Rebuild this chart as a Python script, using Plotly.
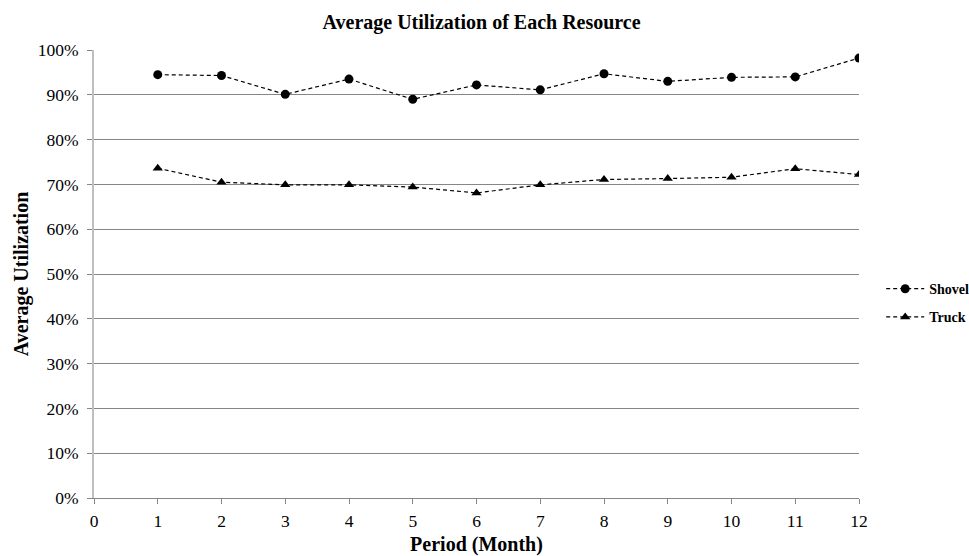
import plotly.graph_objects as go

months = list(range(1, 13))
shovel = [94.5, 94.3, 90.1, 93.5, 89.0, 92.2, 91.1, 94.7, 93.0, 93.9, 94.0, 98.2]
truck = [73.6, 70.5, 69.9, 69.9, 69.4, 68.1, 69.9, 71.1, 71.3, 71.6, 73.5, 72.2]
y_ticks = list(range(0, 101, 10))
y_tick_text = [f"{v}%" for v in y_ticks]
x_ticks = list(range(0, 13))

FONT = "Liberation Serif, Times New Roman, serif"

fig = go.Figure()
fig.add_trace(go.Scatter(
    x=months, y=shovel, name="Shovel", mode="lines+markers", legendgroup="shovel",
    line=dict(color="black", width=1.2, dash="4px,3px"),
    marker=dict(symbol="circle", size=9, color="black"),
))
fig.add_trace(go.Scatter(
    x=months, y=truck, name="Truck", mode="lines+markers", legendgroup="truck",
    line=dict(color="black", width=1.2, dash="4px,3px"),
    marker=dict(symbol="triangle-up", size=9, color="black"),
))

fig.update_layout(
    width=969, height=556,
    margin=dict(l=94, r=110, t=50, b=58, autoexpand=False),
    paper_bgcolor="white", plot_bgcolor="white",
    font=dict(family=FONT, color="black", size=17.5),
    title=dict(text="<b>Average Utilization of Each Resource</b>",
               x=0.497, xanchor="center", y=1 - 22 / 556, yanchor="middle",
               font=dict(size=20, family=FONT)),
    showlegend=True,
    legend=dict(x=1.029, xanchor="left", y=0.435, yanchor="middle",
                font=dict(size=14, family=FONT, weight="bold"),
                itemwidth=38, tracegroupgap=7, bgcolor="rgba(0,0,0,0)"),
    xaxis=dict(range=[0, 12], tickvals=x_ticks, showgrid=False,
               showline=True, linecolor="#868686", linewidth=1,
               ticks="outside", ticklen=5, tickcolor="#868686",
               tickfont=dict(size=17.5), zeroline=False, automargin=False,
               ticklabelstandoff=2,
               title=dict(text="<b>Period (Month)</b>", font=dict(size=20))),
    yaxis=dict(range=[0, 100], tickvals=y_ticks, ticktext=y_tick_text,
               showgrid=True, gridcolor="#868686", gridwidth=1,
               showline=True, linecolor="#bfbfbf", linewidth=2,
               ticks="outside", ticklen=5, tickcolor="#868686",
               tickfont=dict(size=17.5), zeroline=False, automargin=False,
               ticklabelstandoff=5,
               title=dict(text="<b>Average Utilization</b>", font=dict(size=20), standoff=4)),
)

fig.write_html("out.html")
